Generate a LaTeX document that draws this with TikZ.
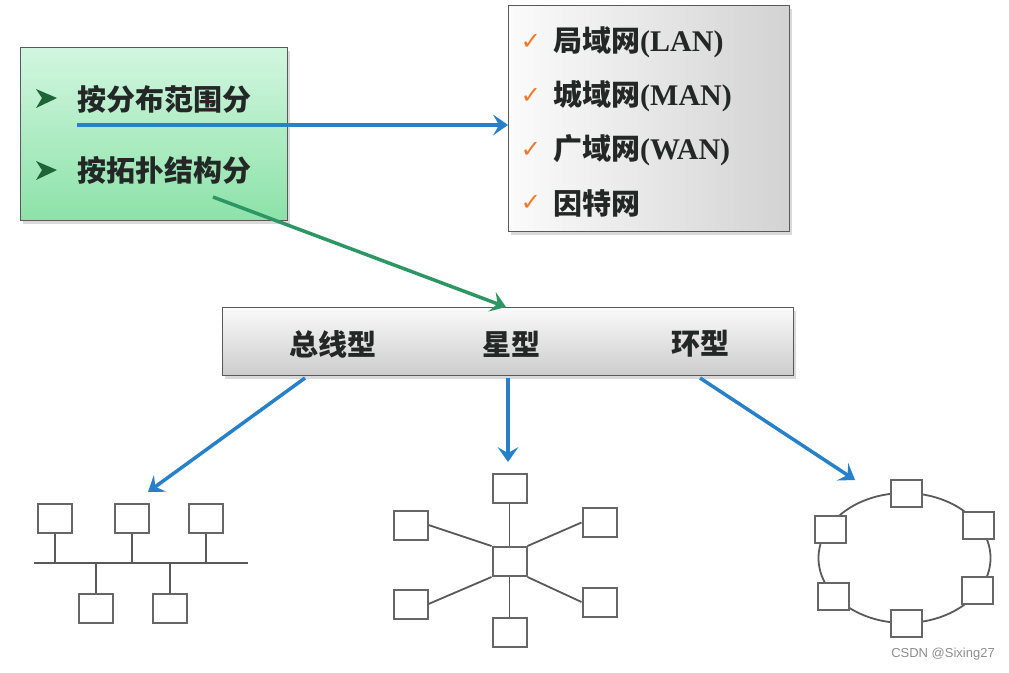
\documentclass[tikz,border=0pt]{standalone}
\usepackage{fontspec}
\newfontfamily\cjk{Noto Sans CJK SC}
\newfontfamily\symfont{DejaVu Sans}
\newfontfamily\lserif{Liberation Serif}
\newfontfamily\lsans{Liberation Sans}
\usetikzlibrary{arrows.meta,shadows,calc}
\definecolor{arrowblue}{RGB}{40,128,200}
\definecolor{arrowgreen}{RGB}{45,150,100}
\definecolor{greentop}{RGB}{210,246,224}
\definecolor{greenbot}{RGB}{140,226,168}
\definecolor{bulletgreen}{RGB}{30,100,55}
\definecolor{checkorange}{RGB}{240,120,40}
\definecolor{textdark}{RGB}{35,40,38}
\begin{document}
\begin{tikzpicture}[x=1pt,y=-1pt,
  panel/.style={draw=black!65, line width=1.3pt, anchor=north west, inner sep=0pt,
    drop shadow={shadow xshift=2pt,shadow yshift=-3pt,opacity=0.3}},
  netbox/.style={draw=black!60, line width=2pt, fill=white, minimum width=34pt, minimum height=29pt, inner sep=0pt},
  ringbox/.style={netbox, minimum width=31pt, minimum height=27pt},
  wire/.style={draw=black!65, line width=1.8pt},
  myhead/.style={-{Stealth[length=15pt,width=21pt,inset=6pt,line width=0pt]}},
  bluearrow/.style={draw=arrowblue, fill=arrowblue, line width=3.5pt, myhead},
  greenarrow/.style={draw=arrowgreen, fill=arrowgreen, line width=3.5pt, myhead},
  bigtext/.style={font=\cjk\bfseries\fontsize{29}{29}\selectfont, text=textdark, inner sep=0pt},
  check/.style={font=\symfont\fontsize{24}{24}\selectfont, text=checkorange, inner sep=0pt},
  bullet/.style={fill=bulletgreen, draw=none}
]
\useasboundingbox (0,0) rectangle (1009,672);

% ---- panels ----
\node[panel, minimum width=267pt, minimum height=173pt, top color=greentop, bottom color=greenbot] (g) at (20,47) {};
\node[panel, minimum width=281pt, minimum height=226pt, shading angle=135, left color=gray!3, right color=gray!35] (r) at (508,5) {};
\node[panel, minimum width=571pt, minimum height=68pt, top color=gray!4, bottom color=gray!40] (m) at (222,307) {};

% ---- green panel content ----
\fill[bullet] (36,89) -- (57,98) -- (36,108) -- (42,98) -- cycle;
\fill[bullet] (36,161) -- (57,170) -- (36,180) -- (42,170) -- cycle;
\node[bigtext, anchor=west] (t1) at (77,99) {按分布范围分};
\node[bigtext, anchor=west] (t2) at (77,170) {按拓扑结构分};

% ---- right panel content ----
\node[check] (c1) at (531,42) {✓};
\node[check] (c2) at (531,96) {✓};
\node[check] (c3) at (531,150) {✓};
\node[check] (c4) at (531,203) {✓};
\node[bigtext, anchor=west] (l1) at (553,42) {局域网{\lserif\bfseries\fontsize{30}{30}\selectfont(LAN)}};
\node[bigtext, anchor=west] (l2) at (553,96) {城域网{\lserif\bfseries\fontsize{30}{30}\selectfont(MAN)}};
\node[bigtext, anchor=west] (l3) at (553,150) {广域网{\lserif\bfseries\fontsize{30}{30}\selectfont(WAN)}};
\node[bigtext, anchor=west] (l4) at (553,203) {因特网};

% ---- middle panel content ----
\node[bigtext] (bus) at (333,344) {总线型};
\node[bigtext] (star) at (511,344) {星型};
\node[bigtext] (ring) at (700,344) {环型};

% ---- top arrows ----
\coordinate (s1) at (77,125);
\draw[bluearrow] (s1) -- (s1 -| r.west);
\coordinate (s2) at (213,197);
\coordinate (e2) at (506,307);
\draw[greenarrow] (s2) -- (e2);

% ---- bus topology ----
\coordinate (busL) at (34,563);
\coordinate (busR) at (248,563);
\draw[wire] (busL) -- (busR);
\node[netbox] (b1) at (55,518) {};
\node[netbox] (b2) at (132,518) {};
\node[netbox] (b3) at (206,518) {};
\node[netbox] (b4) at (96,608) {};
\node[netbox] (b5) at (170,608) {};
\foreach \n in {b1,b2,b3} \draw[wire] (\n.south) -- (\n.south |- busL);
\foreach \n in {b4,b5} \draw[wire] (\n.north) -- (\n.north |- busL);

% ---- star topology ----
\node[netbox] (hub) at (509.5,561.5) {};
\node[netbox] (st) at (509.5,488) {};
\node[netbox] (sb) at (509.5,632) {};
\node[netbox] (slu) at (410.5,525) {};
\node[netbox] (sll) at (410.5,604) {};
\node[netbox] (sru) at (599.5,522.5) {};
\node[netbox] (srl) at (599.5,602) {};
\draw[wire] (st.south) -- (hub.north);
\draw[wire] (hub.south) -- (sb.north);
\draw[wire] (slu.east) -- (hub.north west);
\draw[wire] (sll.east) -- (hub.south west);
\draw[wire] (sru.west) -- (hub.north east);
\draw[wire] (srl.west) -- (hub.south east);

% ---- ring topology ----
\coordinate (rc) at (904.5,558);
\draw[wire] (rc) ellipse [x radius=86pt, y radius=65pt];
\node[ringbox] (r1) at (906,493) {};
\node[ringbox] (r2) at (978,525) {};
\node[ringbox] (r3) at (977,590) {};
\node[ringbox] (r4) at (906,623) {};
\node[ringbox] (r5) at (833,596) {};
\node[ringbox] (r6) at (830,529) {};

% ---- bottom arrows ----
\coordinate (a1) at (305,378);
\coordinate (a2) at (508,378);
\coordinate (a3) at (700,378);
\coordinate (e1) at (148,492);
\coordinate (e3) at (855,480);
\draw[bluearrow] (a1) -- (e1);
\draw[bluearrow] (a2) -- (a2 |- 0,462);
\draw[bluearrow] (a3) -- (e3);

% ---- watermark ----
\node[font=\lsans\fontsize{13}{13}\selectfont, text=black!45, anchor=east, inner sep=0pt] (wm) at (995,654) {CSDN @Sixing27};
\end{tikzpicture}
\end{document}
